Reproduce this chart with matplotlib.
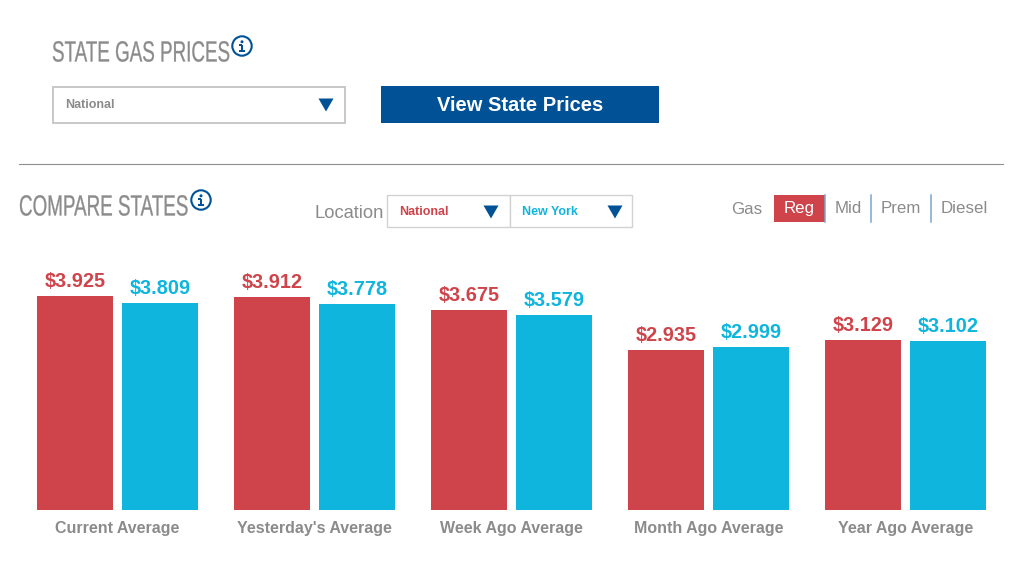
import matplotlib
matplotlib.use('Agg')
import matplotlib.pyplot as plt
from matplotlib.patches import Rectangle, Circle, Polygon
from matplotlib.patheffects import AbstractPathEffect
from matplotlib.transforms import Affine2D

plt.rcParams['font.family'] = ['Liberation Sans', 'DejaVu Sans']

categories = ['Current Average', "Yesterday's Average", 'Week Ago Average',
              'Month Ago Average', 'Year Ago Average']
national = [3.925, 3.912, 3.675, 2.935, 3.129]
new_york = [3.809, 3.778, 3.579, 2.999, 3.102]
gas_types = ['Mid', 'Prem', 'Diesel']

RED = '#cf444b'
CYAN = '#0fb5dd'
NAVY = '#005195'
GREY = '#8b8b8b'
W, H = 1024, 563


# squeeze text sideways, there is no condensed font like the page uses
class Squeeze(AbstractPathEffect):
    def __init__(self, x0, sx):
        super().__init__()
        self.x0 = x0
        self.sx = sx

    def draw_path(self, renderer, gc, tpath, affine, rgbFace=None):
        squeeze = Affine2D().translate(-self.x0, 0).scale(self.sx, 1).translate(self.x0, 0)
        gc0 = renderer.new_gc()
        gc0.copy_properties(gc)
        gc0.set_linewidth(0.2)
        gc0.set_foreground(rgbFace)
        renderer.draw_path(gc0, tpath, affine + squeeze, rgbFace)
        gc0.restore()


fig = plt.figure(figsize=(W / 100, H / 100), dpi=100)

# bars
bar_top = 260
ax = fig.add_axes([0, (H - 510) / H, 1, (510 - bar_top) / H])
ax.set_xlim(-117.5 / 197, (W - 117.5) / 197)
ax.set_ylim(0, (510 - bar_top) / 54.4)
ax.patch.set_alpha(0)
for s in ax.spines.values():
    s.set_visible(False)
ax.tick_params(axis='x', length=0, pad=8, labelcolor=GREY, labelsize=11.5)
ax.set_yticks([])
ax.set_xticks(range(len(categories)))
ax.set_xticklabels(categories, fontweight='bold')

off = 42.5 / 197
bw = 76 / 197
for i in range(len(categories)):
    ax.bar(i - off, national[i], bw, color=RED)
    ax.bar(i + off, new_york[i], bw, color=CYAN)
    ax.annotate(f'${national[i]:.3f}', (i - off, national[i]), xytext=(0, 3.8),
                textcoords='offset points', ha='center', va='bottom', color=RED,
                fontsize=14.3, fontweight='bold')
    ax.annotate(f'${new_york[i]:.3f}', (i + off, new_york[i]), xytext=(0, 3.8),
                textcoords='offset points', ha='center', va='bottom', color=CYAN,
                fontsize=14.3, fontweight='bold')

# page furniture, in pixels
ui = fig.add_axes([0, 0, 1, 1], zorder=3)
ui.set_xlim(0, W)
ui.set_ylim(H, 0)
ui.axis('off')
ui.patch.set_alpha(0)


def heading(x, y, txt, sx):
    ui.text(x, y, txt, fontsize=21, color=GREY, ha='left', va='center',
            path_effects=[Squeeze(x, sx)])


# the little "i" icon, drawn from shapes
def info(x, y):
    ui.add_patch(Circle((x, y), 9.7, fc='white', ec=NAVY, lw=1.5))
    ui.add_patch(Circle((x, y - 4.2), 1.5, fc=NAVY, ec='none'))
    ui.add_patch(Rectangle((x - 1.2, y - 1.5), 2.4, 6.5, fc=NAVY, ec='none'))
    ui.add_patch(Rectangle((x - 2.8, y - 1.8), 3, 1.3, fc=NAVY, ec='none'))
    ui.add_patch(Rectangle((x - 3, y + 4), 6, 1.5, fc=NAVY, ec='none'))


def arrow(x, y):
    ui.add_patch(Polygon([(x - 7.5, y - 6.5), (x + 7.5, y - 6.5), (x, y + 6.5)], fc=NAVY, ec='none'))


def box(x0, y0, x1, y1, ec='#d2d2d2', lw=1.0):
    ui.add_patch(Rectangle((x0, y0), x1 - x0, y1 - y0, fc='white', ec=ec, lw=lw))


heading(52, 53.5, 'STATE GAS PRICES', 0.645)
info(242, 46)
box(52.5, 87, 345, 122.5, ec='#c4c4c4', lw=1.3)
ui.text(65, 104.5, 'National', fontsize=9, fontweight='bold', color=GREY, va='center')
arrow(326, 105)
ui.add_patch(Rectangle((381, 86), 278, 37, fc=NAVY, ec='none'))
ui.text(520, 105.5, 'View State Prices', fontsize=14.5, fontweight='bold', color='white',
        ha='center', va='center')

ui.plot([19, 1003], [164, 164], color='#8f8f8f', lw=0.8)

heading(19, 207.5, 'COMPARE STATES', 0.645)
info(201, 200)
ui.text(314, 214, 'Location', fontsize=13.2, color=GREY, va='center')
box(387, 195, 510, 227)
box(510, 195, 632, 227)
ui.text(399, 212, 'National', fontsize=9, fontweight='bold', color=RED, va='center')
ui.text(522, 212, 'New York', fontsize=9, fontweight='bold', color=CYAN, va='center')
arrow(491, 212)
arrow(615, 212)

ui.text(731, 209.5, 'Gas', fontsize=12.2, color=GREY, va='center')
ui.add_patch(Rectangle((774, 195), 50.5, 27, fc=RED, ec='none'))
ui.text(799, 208.5, 'Reg', fontsize=12.2, color='white', ha='center', va='center')
for x, name in zip([834.5, 881, 941], gas_types):
    ui.text(x, 208.5, name, fontsize=12.2, color=GREY, va='center')
for x in [825, 871, 931]:
    ui.plot([x, x], [195, 221.5], color='#7ba7cf', lw=1.1)

fig.savefig('out.png', dpi=100)
